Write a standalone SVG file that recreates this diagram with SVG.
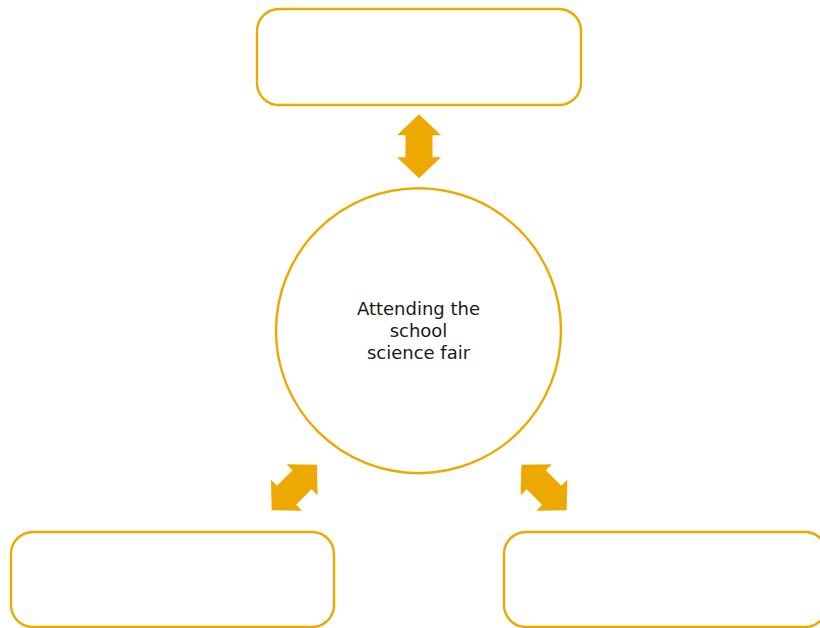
<svg xmlns="http://www.w3.org/2000/svg" width="820" height="628" viewBox="0 0 820 628">
  <style>
    .box { fill: #ffffff; stroke: #EDA900; stroke-width: 2.4; }
    .arrow { fill: #EDA900; stroke: none; }
    .label { font-family: "DejaVu Sans", sans-serif; font-size: 18px; fill: #1a1a1a; text-anchor: middle; }
  </style>
  <defs>
    <polygon id="dblarrow" points="0,-32 22,-11 13.5,-11 13.5,11 22,11 0,32 -22,11 -13.5,11 -13.5,-11 -22,-11"/>
  </defs>
  <rect width="820" height="628" fill="#ffffff"/>
  <g id="top-box">
    <rect class="box" x="257" y="9" width="324" height="96" rx="22" ry="22"/>
  </g>
  <g id="center-circle">
    <circle class="box" cx="418.5" cy="330.7" r="142.5"/>
    <text class="label" x="418.5" y="315">Attending the</text>
    <text class="label" x="418.5" y="337">school</text>
    <text class="label" x="418.5" y="358.5">science fair</text>
  </g>
  <g id="bottom-left-box">
    <rect class="box" x="11" y="532" width="323" height="95" rx="22" ry="22"/>
  </g>
  <g id="bottom-right-box">
    <rect class="box" x="504" y="532" width="323" height="95" rx="22" ry="22"/>
  </g>
  <g id="connectors">
    <use href="#dblarrow" class="arrow" transform="translate(419,146.3)"/>
    <use href="#dblarrow" class="arrow" transform="translate(294.3,487.5) rotate(45)"/>
    <use href="#dblarrow" class="arrow" transform="translate(544,487.5) rotate(-45)"/>
  </g>
</svg>
